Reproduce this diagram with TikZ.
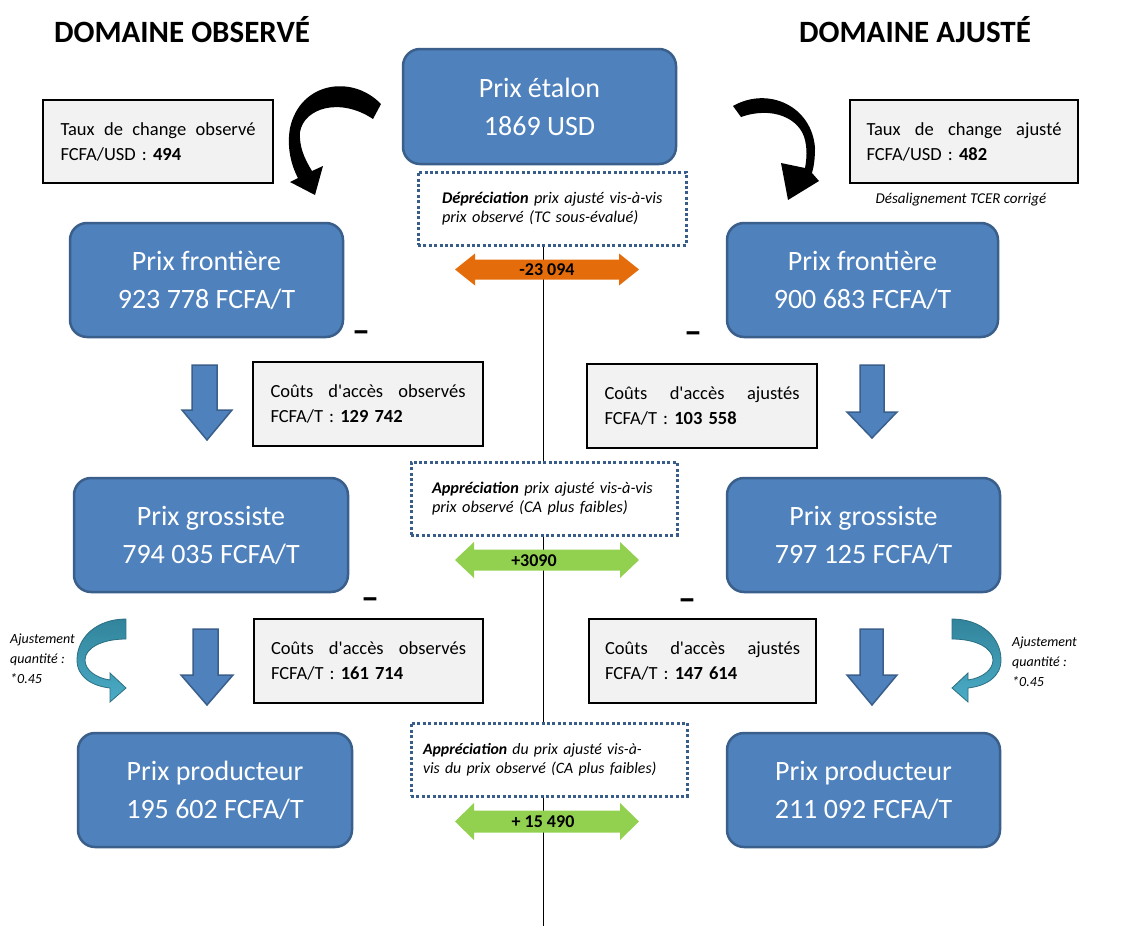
\documentclass[tikz,border=0pt]{standalone}
\usepackage{fontspec}
\setmainfont{Carlito}[Ligatures=TeXOff]
\definecolor{boxblue}{HTML}{4F81BD}
\definecolor{boxborder}{HTML}{3A5F8B}
\definecolor{grayfill}{HTML}{F2F2F2}
\definecolor{dotblue}{HTML}{385D8A}
\definecolor{arrorange}{HTML}{E46C0A}
\definecolor{arrgreen}{HTML}{92D050}
\definecolor{tealA}{HTML}{31849B}
\definecolor{tealB}{HTML}{4BACC6}
\definecolor{tealD}{HTML}{2B6F82}
\newcommand{\jline}[1]{\makebox[195pt][s]{#1}}
\newcommand{\lline}[1]{\makebox[195pt][l]{#1}}
\begin{document}
\begin{tikzpicture}[x=1pt,y=-1pt,
  bluebox/.style={draw=boxborder, fill=boxblue, line width=2.5pt, rounded corners=17pt,
    text=white, align=center, inner sep=0pt, font=\fontsize{28}{38}\selectfont},
  graybox/.style={draw=black, fill=grayfill, line width=2.8pt, text width=195pt,
    align=left, inner xsep=4pt, inner ysep=0pt, font=\fontsize{18.5}{25}\selectfont},
  dotbox/.style={draw=dotblue, fill=white, line width=3pt, dash pattern=on 3pt off 2.4pt,
    align=left, inner ysep=0pt, minimum height=73pt, font=\itshape\fontsize{16.3}{19.5}\selectfont},
  titletext/.style={font=\bfseries\fontsize{31}{36}\selectfont, inner sep=0pt},
  downarr/.style={fill=boxblue, draw=boxborder, line width=1.5pt, line join=miter},
  dbllabel/.style={font=\bfseries\fontsize{18}{22}\selectfont, inner sep=0pt},
  notetext/.style={font=\itshape\fontsize{14}{20}\selectfont, align=left, inner sep=0pt},
  minustext/.style={font=\bfseries\fontsize{36}{36}\selectfont, inner sep=0pt},
  tealarr/.style={top color=tealA, bottom color=tealB, draw=tealD, line width=0.8pt}
]
\useasboundingbox (0,0) rectangle (1133,926);
\fill[white] (0,0) rectangle (1133,926);

% titles
\node[titletext] (tleft) at (182,30) {DOMAINE OBSERVÉ};
\node[titletext] (tright) at (915,30) {DOMAINE AJUSTÉ};

% top
\node[bluebox, minimum width=273pt, minimum height=115pt] (etalon) at (539.5,106.5) {Prix étalon\\1869 USD};
\node[graybox, minimum width=230pt, minimum height=83pt] (tauxL) at (158,141.5)
  {\jline{Taux\hfill de\hfill change\hfill observé}\\\lline{FCFA/USD : \textbf{494}}};
\node[graybox, minimum width=228pt, minimum height=83pt] (tauxR) at (964,141.5)
  {\jline{Taux\hfill de\hfill change\hfill ajusté}\\\lline{FCFA/USD : \textbf{482}}};
\node[notetext, font=\itshape\fontsize{15}{20}\selectfont] (desal) at (961,200) {Désalignement TCER corrigé};

% black curved arrows
\fill[black] (381,104) .. controls (352,74) and (300,82) .. (290,128)
  .. controls (287,145) and (290,163) .. (298,178) -- (290,182) -- (315,195) -- (323,166) -- (312,171)
  .. controls (304,158) and (299,146) .. (300,132) .. controls (304,108) and (340,97) .. (373,119) -- cycle;
\fill[black] (733,106) .. controls (768,86) and (812,106) .. (815,148)
  .. controls (815,158) and (814,166) .. (812,173) -- (819,181) -- (788,200) -- (781,163) -- (805,168)
  .. controls (807,157) and (807,149) .. (805,140) .. controls (800,118) and (772,106) .. (741,117) -- cycle;

% dotted box 1 and vertical line
\node[dotbox, text width=220pt, inner xsep=24pt] (d1) at (552,208.5)
  {\mbox{\textbf{Dépréciation} prix ajusté vis-à-vis}\\\mbox{prix observé (TC sous-évalué)}};
\coordinate (vbot) at (543,926);
\draw[line width=0.8pt] (d1.south -| vbot) -- (vbot);

% orange double arrow
\fill[arrorange] (455,269.5) -- (475,253.5) -- (475,259.5) -- (619,259.5) -- (619,253.5) -- (639,269.5)
  -- (619,285.5) -- (619,279.5) -- (475,279.5) -- (475,285.5) -- cycle;
\node[dbllabel] (v1) at (547,270) {-23 094};

% row 1
\node[bluebox, minimum width=273pt, minimum height=114pt] (frontL) at (206.5,280) {Prix frontière\\923 778 FCFA/T};
\node[bluebox, minimum width=271pt, minimum height=114pt] (frontR) at (862.5,280) {Prix frontière\\900 683 FCFA/T};
\node[minustext] (m1) at (361,337) {–};
\node[minustext] (m2) at (693,338) {–};

% down arrows row 1
\filldraw[downarr] (192,365) -- (217,365) -- (217,410) -- (232,410) -- (207,440) -- (182,410) -- (192,410) -- cycle;
\filldraw[downarr] (860,365) -- (884,365) -- (884,412) -- (897,412) -- (872,438) -- (847,412) -- (860,412) -- cycle;

\node[graybox, minimum width=230pt, minimum height=84pt] (coutL1) at (368,404)
  {\jline{Coûts\hfill d'accès\hfill observés}\\\lline{FCFA/T : \textbf{129 742}}};
\node[graybox, minimum width=230pt, minimum height=84pt] (coutR1) at (702,406)
  {\jline{Coûts\hfill d'accès\hfill ajustés}\\\lline{FCFA/T : \textbf{103 558}}};

% dotted box 2 + green arrow
\node[dotbox, text width=224pt, inner xsep=21pt] (d2) at (544,498.5)
  {\mbox{\textbf{Appréciation} prix ajusté vis-à-vis}\\\mbox{prix observé (CA plus faibles)}};
\fill[arrgreen] (455,560) -- (474,542) -- (474,549.5) -- (620,549.5) -- (620,542) -- (639,560)
  -- (620,578) -- (620,570.5) -- (474,570.5) -- (474,578) -- cycle;
\node[dbllabel] (v2) at (534,560.5) {+3090};

% row 2
\node[bluebox, minimum width=274pt, minimum height=114pt] (grosL) at (211,535) {Prix grossiste\\794 035 FCFA/T};
\node[bluebox, minimum width=273pt, minimum height=114pt] (grosR) at (863.5,535) {Prix grossiste\\797 125 FCFA/T};
\node[minustext] (m3) at (370,604) {–};
\node[minustext] (m4) at (687,605) {–};

% row 3 arrows
\filldraw[downarr] (193,629) -- (218,629) -- (218,675) -- (233,675) -- (207,705) -- (181,675) -- (193,675) -- cycle;
\filldraw[downarr] (860,629) -- (883,629) -- (883,675) -- (897,675) -- (872,705) -- (847,675) -- (860,675) -- cycle;

% teal curved arrows
\shadedraw[tealarr] (126,619) .. controls (96,619) and (77,638) .. (77,660)
  .. controls (77,677) and (92,686) .. (110,688) -- (110,702) -- (126,688) -- (110,673) -- (110,680)
  .. controls (96,678) and (85,670) .. (85,660) .. controls (85,648) and (102,639) .. (126,639) -- cycle;
\begin{scope}[xshift=1078pt, xscale=-1]
\shadedraw[tealarr] (126,619) .. controls (96,619) and (77,638) .. (77,660)
  .. controls (77,677) and (92,686) .. (110,688) -- (110,702) -- (126,688) -- (110,673) -- (110,680)
  .. controls (96,678) and (85,670) .. (85,660) .. controls (85,648) and (102,639) .. (126,639) -- cycle;
\end{scope}
\node[notetext, anchor=west] (adjL) at (10,659) {Ajustement\\quantité :\\*0.45};
\node[notetext, anchor=west] (adjR) at (1012,662) {Ajustement\\quantité :\\*0.45};

\node[graybox, minimum width=229pt, minimum height=84pt] (coutL2) at (368.5,661)
  {\jline{Coûts\hfill d'accès\hfill observés}\\\lline{FCFA/T : \textbf{161 714}}};
\node[graybox, minimum width=227pt, minimum height=84pt] (coutR2) at (702.5,661)
  {\jline{Coûts\hfill d'accès\hfill ajustés}\\\lline{FCFA/T : \textbf{147 614}}};

% dotted box 3 + green arrow
\node[dotbox, text width=252pt, inner xsep=12pt, font=\itshape\fontsize{15.8}{19.5}\selectfont] (d3) at (549,759.5)
  {\mbox{\textbf{Appréciation} du prix ajusté vis-à-}\\\mbox{vis du prix observé (CA plus faibles)}};
\fill[arrgreen] (455,821.5) -- (474,803) -- (474,810.5) -- (620,810.5) -- (620,803) -- (639,821.5)
  -- (620,840) -- (620,832.5) -- (474,832.5) -- (474,840) -- cycle;
\node[dbllabel] (v3) at (543,822) {+ 15 490};

% row 3 boxes
\node[bluebox, minimum width=274pt, minimum height=114pt] (prodL) at (215,790) {Prix producteur\\195 602 FCFA/T};
\node[bluebox, minimum width=273pt, minimum height=114pt] (prodR) at (863.5,790) {Prix producteur\\211 092 FCFA/T};
\end{tikzpicture}
\end{document}
